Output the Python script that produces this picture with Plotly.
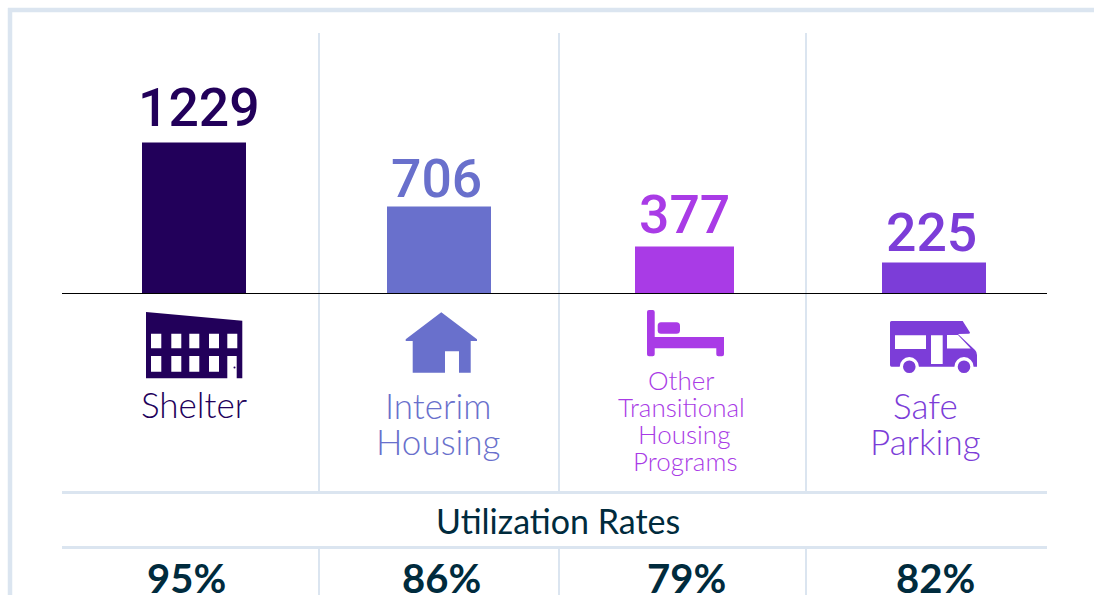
import re
import plotly.graph_objects as go

W, H = 1094, 595

# ---- data
categories = ["Shelter", "Interim Housing", "Other Transitional Housing Programs", "Safe Parking"]
program_counts = [1229, 706, 377, 225]
# the source's bars are hand-sized; these are the lengths they are actually drawn at
drawn_lengths = [1229, 708, 382, 252]
utilization_rates = ["95%", "86%", "79%", "82%"]
utilization_title = "Utilization Rates"
label_lines = [["Shelter"], ["Interim", "Housing"], ["Other", "Transitional", "Housing", "Programs"], ["Safe", "Parking"]]

# ---- styles
colors = ["#22005a", "#6970cc", "#a93be6", "#7c3dd8"]
GRID = "#dbe5f0"
INK = "#002b3d"
HEAD_FONT = "Roboto"

# axis scales: whole page is the plot area
px_per_cat = 246.67
first_cat_px = 194
baseline_px = 293.5
px_per_unit = 151 / 1229

def fx(x):
    return x / W

def fy(y):
    return 1 - y / H

def path(d):
    """Turn an 'M x y L x y' string written in page pixels into a paper-referenced path."""
    tokens = re.findall(r"[MLCQZ]|-?\d+\.?\d*", d)
    out = []
    isx = True
    for t in tokens:
        if t in "MLCQZ":
            out.append(t)
            isx = True
        else:
            out.append(f"{fx(float(t)):.5f}" if isx else f"{fy(float(t)):.5f}")
            isx = not isx
    return " ".join(out)

def rect_d(x0, y0, x1, y1):
    return f"M {x0} {y0} L {x1} {y0} L {x1} {y1} L {x0} {y1} Z "

def shape_path(d, color):
    return dict(type="path", xref="paper", yref="paper", path=path(d), fillcolor=color,
                line=dict(width=0), layer="above")

def line(x0, y0, x1, y1, color=GRID, width=2):
    return dict(type="line", xref="paper", yref="paper", x0=fx(x0), y0=fy(y0), x1=fx(x1), y1=fy(y1),
                line=dict(color=color, width=width), layer="below")

def circle(cx, cy, r, color):
    return dict(type="circle", xref="paper", yref="paper", x0=fx(cx - r), x1=fx(cx + r),
                y0=fy(cy + r), y1=fy(cy - r), fillcolor=color, line=dict(width=0), layer="above")

shapes = []
# frame
shapes += [line(10, 8, 10, H, width=4.5), line(8, 10, W, 10, width=4.5)]
# table rules
for x in (319, 559, 806):
    shapes += [line(x, 33, x, 492), line(x, 548, x, H)]
shapes += [line(62, 492.5, 1047, 492.5, width=3), line(62, 547.5, 1047, 547.5, width=3)]

# building icon
d = "M 146 312 L 242.3 320.7 L 242.3 378.3 L 236.7 378.3 L 236.7 356 L 227.3 356 L 227.3 378.3 L 146 378.3 Z "
for x0, x1 in [(151, 161.3), (171.3, 181.3), (189.3, 199.3), (209, 219), (227.3, 237.3)]:
    d += rect_d(x0, 333.7, x1, 348.3)
for x0, x1 in [(151, 161.3), (171.3, 181.3), (189.3, 199.3), (209, 219)]:
    d += rect_d(x0, 356, x1, 371.7)
shapes.append(shape_path(d, colors[0]))
shapes.append(circle(234.5, 367.5, 1, colors[0]))

# house icon
shapes.append(shape_path(
    "M 441.3 312.3 L 477 339.3 L 477 341 L 470.7 341 L 470.7 372.7 L 459 372.7 L 459 351.3 L 445 351.3 "
    "L 445 372.7 L 412.7 372.7 L 412.7 341 L 405.7 341 L 405.7 339.3 Z", colors[1]))

# bed icon
shapes.append(shape_path(
    "M 649 310 L 652.7 310 Q 654.7 310 654.7 312 L 654.7 337 L 724 337 L 724 354.3 Q 724 356.3 722 356.3 "
    "L 718.3 356.3 Q 716.3 356.3 716.3 354.3 L 716.3 348.3 L 654.7 348.3 L 654.7 354.3 Q 654.7 356.3 652.7 356.3 "
    "L 649 356.3 Q 647 356.3 647 354.3 L 647 312 Q 647 310 649 310 Z", colors[2]))
shapes.append(shape_path(
    "M 661 322.3 L 676.5 322.3 Q 680 322.3 680 325.8 L 680 330.2 Q 680 333.7 676.5 333.7 L 661 333.7 "
    "Q 657.7 333.7 657.7 330.2 L 657.7 325.8 Q 657.7 322.3 661 322.3 Z", colors[2]))

# camper icon
d = ("M 891.5 321 L 962.7 321 L 970 332.5 Q 970 333.8 968.5 333.8 L 958 334 L 975 350 Q 977 352 977 355 "
     "L 977 366.7 L 891.5 366.7 Q 890 366.7 890 365 L 890 322.5 Q 890 321 891.5 321 Z ")
d += rect_d(895, 335.3, 926, 349)
d += rect_d(931, 335.3, 942.7, 364)
d += "M 947 335 L 958 335 L 970.7 348.5 L 947 348.5 Z "
shapes.append(shape_path(d, colors[3]))
for cx in (909.3, 964):
    shapes.append(circle(cx, 366.7, 9.6, "#ffffff"))
    shapes.append(circle(cx, 366.7, 6.3, colors[3]))

# baseline, above the bars
base = dict(type="line", xref="paper", yref="y", x0=fx(62), x1=fx(1047), y0=0, y1=0,
            line=dict(color="#000000", width=1), layer="above")
shapes.append(base)

# ---- texts
annotations = []

def text(x, y, s, size, color, family="Lato", weight=400):
    annotations.append(dict(xref="paper", yref="paper", x=fx(x), y=fy(y), text=s, showarrow=False,
                            xanchor="center", yanchor="middle", borderpad=0,
                            font=dict(family=family, size=size, color=color, weight=weight)))

for v, x, y, c in zip(program_counts, (198.5, 436, 684, 931), (107.5, 178, 214, 233), colors):
    text(x, y, str(v), 53.5, c, HEAD_FONT, 500)

label_rows = [[(194, 404)], [(438, 405), (438, 441)],
              [(681, 380), (681, 407), (684, 434), (685, 461)], [(925, 405), (925, 441)]]
label_sizes = [35, 35, 26, 35]
for lines, rows, size, c in zip(label_lines, label_rows, label_sizes, colors):
    for s, (x, y) in zip(lines, rows):
        text(x, y, s, size, c, "Lato", 300)

text(558, 520, utilization_title, 34, INK, "Lato", 400)
for s, x in zip(utilization_rates, (186.5, 441.5, 686, 935.5)):
    text(x, 578, s, 40, INK, "Lato", 700)

# ---- bars: categorical axis, per-bar width and offset to match the source's slight irregularities
bar_widths = [104 / px_per_cat, 104 / px_per_cat, 99 / px_per_cat, 104 / px_per_cat]
bar_left_px = [142, 387, 635, 882]
bar_offsets = [(l - (first_cat_px + i * px_per_cat)) / px_per_cat for i, l in enumerate(bar_left_px)]

fig = go.Figure(go.Bar(x=categories, y=drawn_lengths, marker=dict(color=colors, line=dict(width=0)),
                       width=bar_widths, offset=bar_offsets, hoverinfo="skip"))

fig.update_layout(
    width=W, height=H, margin=dict(l=0, r=0, t=0, b=0), autosize=False,
    paper_bgcolor="#ffffff", plot_bgcolor="rgba(0,0,0,0)", showlegend=False,
    xaxis=dict(type="category", categoryorder="array", categoryarray=categories,
               range=[(0 - first_cat_px) / px_per_cat, (W - first_cat_px) / px_per_cat],
               visible=False, fixedrange=True),
    yaxis=dict(range=[(baseline_px - H) / px_per_unit, baseline_px / px_per_unit],
               visible=False, fixedrange=True),
    shapes=shapes, annotations=annotations,
)
fig.write_html("out.html", config=dict(displayModeBar=False),
               post_script="document.body.style.margin='0';document.body.style.overflow='hidden';")
